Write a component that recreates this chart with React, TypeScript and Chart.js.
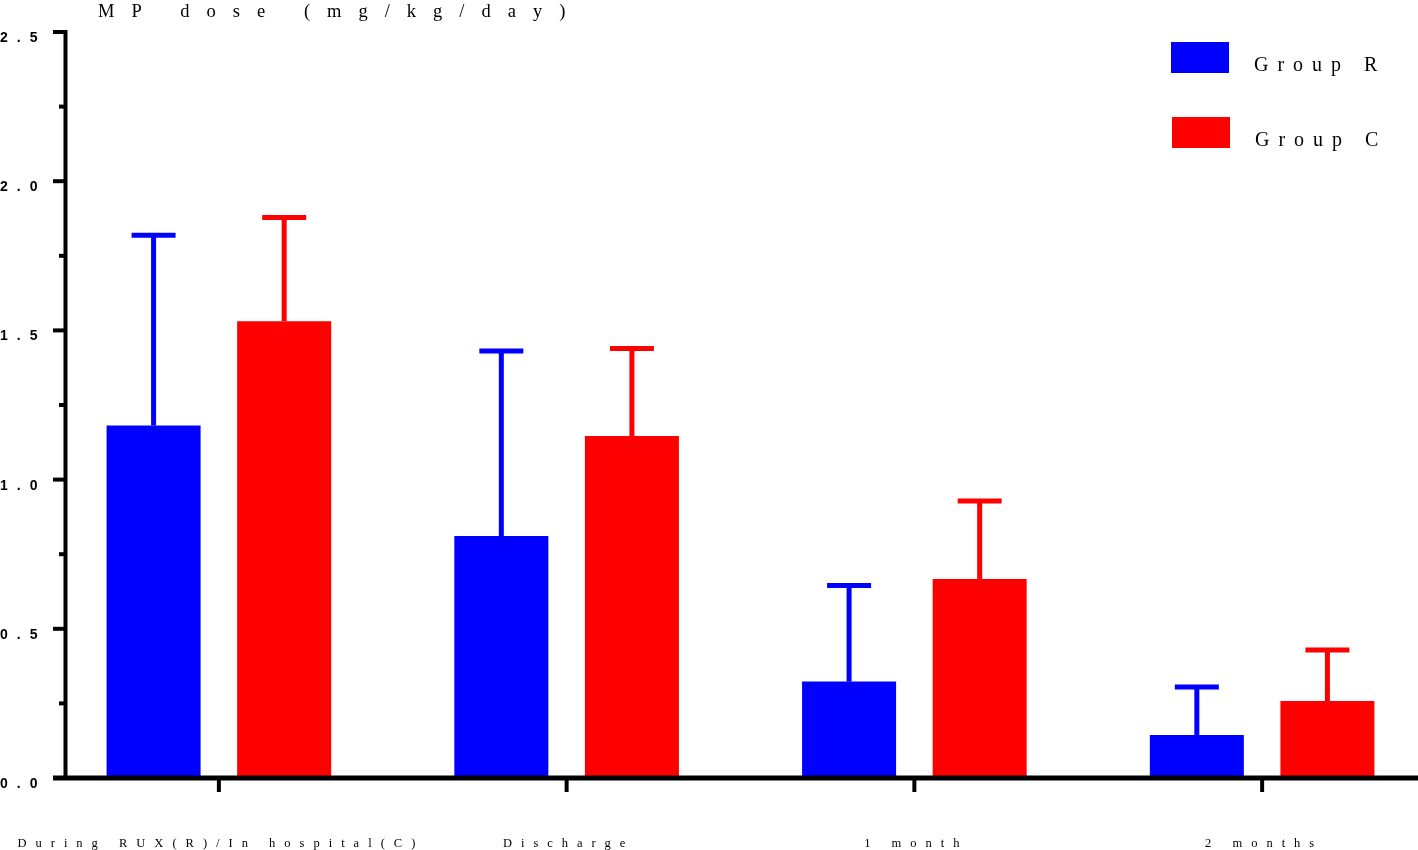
import React, { useEffect, useRef } from "react";
import { Chart, registerables } from "chart.js";

Chart.register(...registerables);

const categories = ["During RUX(R)/In hospital(C)", "Discharge", "1 month", "2 months"];
const groupRMean = [1.181, 0.811, 0.323, 0.144];
const groupRSD = [0.638, 0.62, 0.322, 0.161];
const groupCMean = [1.531, 1.146, 0.667, 0.258];
const groupCSD = [0.347, 0.293, 0.261, 0.171];
const seriesNames = ["Group R", "Group C"];
const seriesColors = ["#0000FF", "#FF0000"];
const yMajorTicks = [0, 0.5, 1, 1.5, 2, 2.5];
const yMinorTicks = [0.25, 0.75, 1.25, 1.75, 2.25];
const yTickLabels = ["0.0", "0.5", "1.0", "1.5", "2.0", "2.5"];
const yTitle = "MP dose (mg/kg/day)";

const CANVAS_W = 1440;
const CANVAS_H = 850;

const overlayPlugin = {
  id: "overlay",
  afterDatasetsDraw(chart: any) {
    const { ctx } = chart;
    const yScale = chart.scales.y;
    const sds = [groupRSD, groupCSD];
    chart.data.datasets.forEach((ds: any, di: number) => {
      const meta = chart.getDatasetMeta(di);
      meta.data.forEach((bar: any, i: number) => {
        const top = yScale.getPixelForValue(ds.data[i] + sds[di][i]);
        ctx.save();
        ctx.strokeStyle = seriesColors[di];
        ctx.lineWidth = 5;
        ctx.lineCap = "butt";
        ctx.beginPath();
        ctx.moveTo(bar.x, bar.y);
        ctx.lineTo(bar.x, top);
        ctx.stroke();
        ctx.beginPath();
        ctx.moveTo(bar.x - 22, top);
        ctx.lineTo(bar.x + 22, top);
        ctx.stroke();
        ctx.restore();
      });
    });
  },
  afterDraw(chart: any) {
    const { ctx, chartArea } = chart;
    const xScale = chart.scales.x;
    const yScale = chart.scales.y;
    const axisX = chartArea.left + 20.5;
    const zeroY = yScale.getPixelForValue(0);
    ctx.save();
    ctx.strokeStyle = "#000";
    ctx.fillStyle = "#000";
    ctx.lineCap = "butt";

    // y axis line
    ctx.lineWidth = 4;
    ctx.beginPath();
    ctx.moveTo(axisX, yScale.getPixelForValue(2.5) - 2);
    ctx.lineTo(axisX, zeroY);
    ctx.stroke();

    // y major ticks
    yMajorTicks.forEach((v) => {
      const py = yScale.getPixelForValue(v);
      ctx.lineWidth = 4;
      ctx.beginPath();
      ctx.moveTo(axisX - 12.5, py);
      ctx.lineTo(axisX, py);
      ctx.stroke();
    });
    // y minor ticks
    yMinorTicks.forEach((v) => {
      const py = yScale.getPixelForValue(v);
      ctx.lineWidth = 4;
      ctx.beginPath();
      ctx.moveTo(axisX - 6.5, py);
      ctx.lineTo(axisX, py);
      ctx.stroke();
    });

    // x axis line
    ctx.lineWidth = 5;
    ctx.beginPath();
    ctx.moveTo(axisX - 12.5, zeroY);
    ctx.lineTo(chart.width, zeroY);
    ctx.stroke();

    // x ticks
    categories.forEach((_, i) => {
      const px = xScale.getPixelForValue(i);
      ctx.lineWidth = 4;
      ctx.beginPath();
      ctx.moveTo(px, zeroY);
      ctx.lineTo(px, zeroY + 14);
      ctx.stroke();
    });

    // y tick labels
    ctx.font = 'bold 14px "Liberation Sans", Arial, sans-serif';
    ctx.textAlign = "left";
    ctx.textBaseline = "alphabetic";
    (ctx as any).letterSpacing = "9px";
    yMajorTicks.forEach((v, i) => {
      const py = yScale.getPixelForValue(v);
      ctx.fillText(yTickLabels[i], 0, py + 10);
    });

    // x labels
    ctx.font = '12.5px "Liberation Serif", "DejaVu Serif", serif';
    ctx.textAlign = "center";
    (ctx as any).letterSpacing = "9px";
    categories.forEach((c, i) => {
      const px = xScale.getPixelForValue(i);
      ctx.fillText(c, px + 2, zeroY + 69);
    });

    // title
    ctx.font = '18.5px "Liberation Serif", "DejaVu Serif", serif';
    ctx.textAlign = "left";
    (ctx as any).letterSpacing = "17px";
    ctx.fillText(yTitle, 98, 17);

    // legend
    const legendBoxes = [
      { x: 1171, y: 42, tx: 1254, ty: 71 },
      { x: 1172, y: 117, tx: 1255, ty: 146 },
    ];
    ctx.font = '20px "Liberation Serif", "DejaVu Serif", serif';
    (ctx as any).letterSpacing = "9px";
    legendBoxes.forEach((b, i) => {
      ctx.fillStyle = seriesColors[i];
      ctx.fillRect(b.x, b.y, 58, 31);
      ctx.fillStyle = "#000";
      ctx.fillText(seriesNames[i], b.tx, b.ty);
    });
    (ctx as any).letterSpacing = "0px";
    ctx.restore();
  },
};

export default function App() {
  const canvasRef = useRef<HTMLCanvasElement | null>(null);

  useEffect(() => {
    const canvas = canvasRef.current;
    if (!canvas) return;
    const chart = new Chart(canvas, {
      type: "bar",
      data: {
        labels: categories,
        datasets: [
          {
            label: seriesNames[0],
            data: groupRMean,
            backgroundColor: seriesColors[0],
            borderWidth: 0,
            categoryPercentage: 0.751,
            barPercentage: 0.72,
          },
          {
            label: seriesNames[1],
            data: groupCMean,
            backgroundColor: seriesColors[1],
            borderWidth: 0,
            categoryPercentage: 0.751,
            barPercentage: 0.72,
          },
        ],
      },
      options: {
        responsive: false,
        animation: false,
        devicePixelRatio: 1,
        layout: { padding: { left: 45, right: CANVAS_W - 1436, top: 32, bottom: CANVAS_H - 778 } },
        plugins: {
          legend: { display: false },
          tooltip: { enabled: false },
          title: { display: false },
        },
        scales: {
          x: { display: false, offset: true },
          y: { display: false, min: 0, max: 2.5 },
        },
      },
      plugins: [overlayPlugin],
    });
    return () => chart.destroy();
  }, []);

  return (
    <div
      style={{
        position: "absolute",
        left: 0,
        top: 0,
        width: 1418,
        height: 850,
        overflow: "hidden",
        background: "#fff",
      }}
    >
      <canvas
        ref={canvasRef}
        width={CANVAS_W}
        height={CANVAS_H}
        style={{ display: "block", width: CANVAS_W, height: CANVAS_H }}
      />
    </div>
  );
}
